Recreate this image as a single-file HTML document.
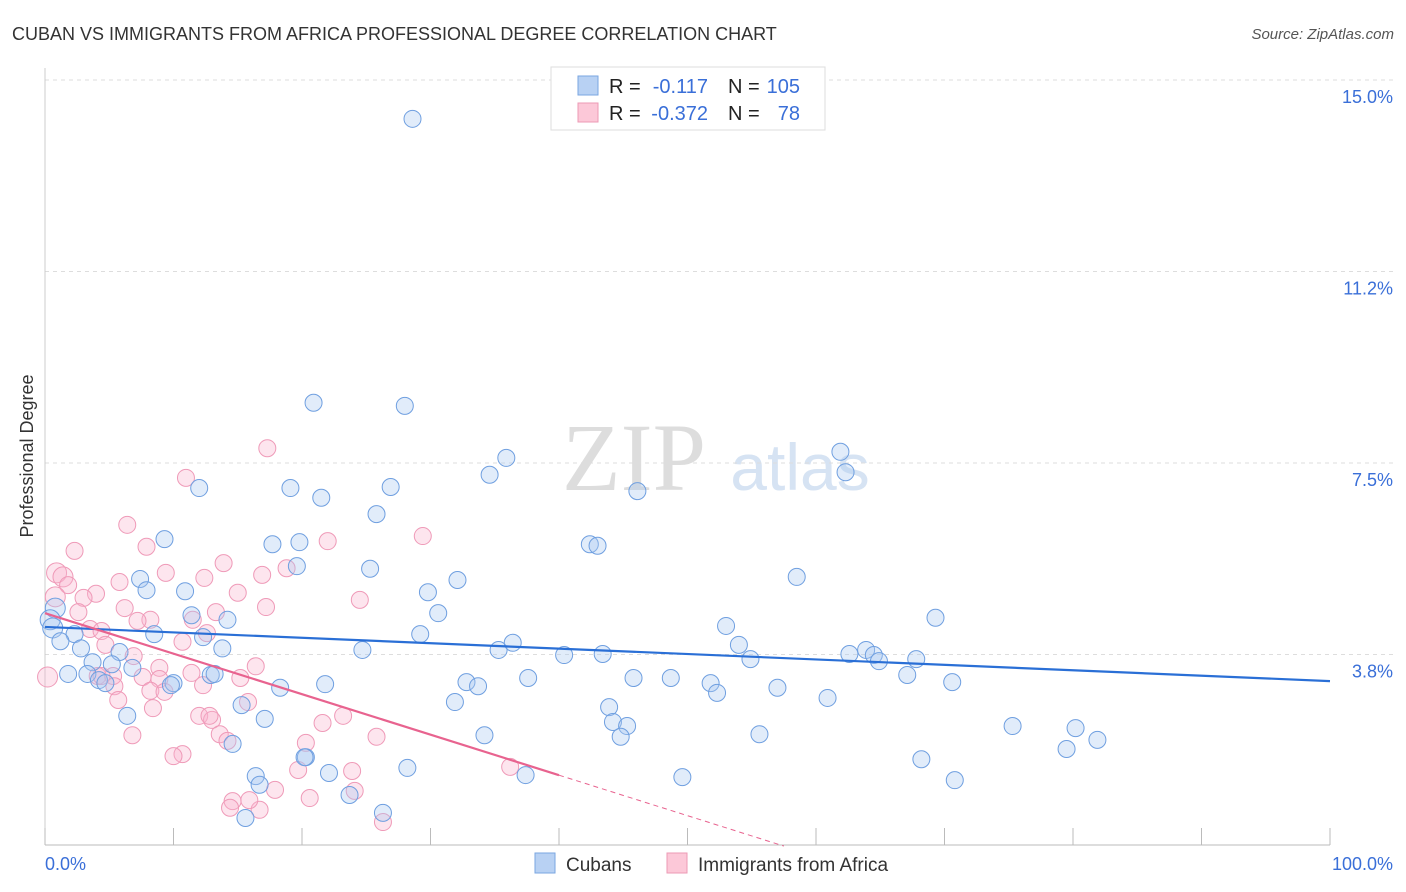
<!DOCTYPE html>
<html><head><meta charset="utf-8"><style>
body{margin:0;background:#fff;font-family:"Liberation Sans",sans-serif;}
svg{display:block}
</style></head><body>
<svg id="chart" width="1406" height="892" viewBox="0 0 1406 892">
<text x="12" y="40" font-size="18" fill="#333">CUBAN VS IMMIGRANTS FROM AFRICA PROFESSIONAL DEGREE CORRELATION CHART</text>
<text x="1394" y="39" font-size="15" fill="#555" font-style="italic" text-anchor="end">Source: ZipAtlas.com</text>
<text x="634" y="490" font-size="96" fill="#ddd" font-family="Liberation Serif,serif" text-anchor="middle">ZIP</text>
<text x="800" y="490" font-size="66" fill="#d6e3f3" text-anchor="middle">atlas</text>
<text x="33" y="456" font-size="18" fill="#333" text-anchor="middle" transform="rotate(-90 33 456)">Professional Degree</text>
<g id="grid"></g><g id="pts"></g><g id="trend"></g>
<g>
<rect x="551" y="67" width="274" height="63" fill="#fff" stroke="#ddd"/>
<rect x="578" y="76" width="20" height="19" fill="#b8d1f3" stroke="#7aa6e0"/>
<rect x="578" y="103" width="20" height="19" fill="#fcc8d8" stroke="#ec9ab5"/>
<text x="609" y="93" font-size="20" fill="#222">R = </text><text x="708" y="93" font-size="20" fill="#3a6fd8" text-anchor="end">-0.117</text>
<text x="728" y="93" font-size="20" fill="#222">N = </text><text x="800" y="93" font-size="20" fill="#3a6fd8" text-anchor="end">105</text>
<text x="609" y="120" font-size="20" fill="#222">R = </text><text x="708" y="120" font-size="20" fill="#3a6fd8" text-anchor="end">-0.372</text>
<text x="728" y="120" font-size="20" fill="#222">N = </text><text x="800" y="120" font-size="20" fill="#3a6fd8" text-anchor="end">78</text>
</g>
<g>
<rect x="535" y="853" width="20" height="20" fill="#b8d1f3" stroke="#7aa6e0"/>
<text x="566" y="871" font-size="19" fill="#333">Cubans</text>
<rect x="667" y="853" width="20" height="20" fill="#fcc8d8" stroke="#ec9ab5"/>
<text x="698" y="871" font-size="19" fill="#333">Immigrants from Africa</text>
</g>
</svg>
<script>
const yTicks=[15.0,11.25,7.5,3.75];
const yTickLabels=["15.0%","11.2%","7.5%","3.8%"];
const xTickLabels=["0.0%","100.0%"];
const cubanX=[28.6,20.9,28.0,35.9,61.9,62.3,34.6,12.0,19.1,21.5,26.9,46.1,25.8,9.3,17.7,19.8,42.4,43.0,58.5,19.6,25.3,32.1,29.8,7.4,7.9,10.9,30.6,0.8,0.4,0.6,11.4,14.2,29.2,8.5,2.3,1.2,12.3,13.8,2.8,5.8,24.7,35.3,36.4,40.4,43.4,53.0,54.0,54.9,62.6,63.9,64.5,64.9,67.8,69.3,3.7,5.2,6.8,1.8,3.3,4.2,4.7,10.0,9.8,12.9,13.2,18.3,21.8,32.8,33.7,37.6,45.8,48.7,51.8,52.3,57.0,60.9,67.1,70.6,31.9,43.9,44.2,45.3,44.8,6.4,15.3,17.1,34.2,55.6,75.3,80.2,81.9,79.5,14.6,20.3,20.2,68.2,16.4,16.7,22.1,28.2,37.4,49.6,70.8,23.7,26.3,15.6];
const cubanY=[14.24,8.68,8.62,7.60,7.72,7.32,7.27,7.01,7.01,6.82,7.03,6.95,6.50,6.01,5.91,5.95,5.91,5.88,5.27,5.48,5.43,5.21,4.97,5.23,5.01,4.99,4.56,4.66,4.43,4.27,4.52,4.43,4.15,4.15,4.15,4.01,4.09,3.87,3.87,3.80,3.84,3.84,3.98,3.74,3.76,4.31,3.94,3.66,3.76,3.84,3.74,3.62,3.66,4.47,3.60,3.56,3.49,3.37,3.37,3.25,3.19,3.19,3.15,3.35,3.37,3.10,3.17,3.21,3.13,3.29,3.29,3.29,3.19,3.00,3.10,2.90,3.35,3.21,2.82,2.72,2.43,2.35,2.14,2.55,2.76,2.49,2.17,2.19,2.35,2.31,2.08,1.90,2.00,1.74,1.74,1.70,1.37,1.20,1.43,1.53,1.39,1.35,1.29,1.00,0.65,0.55];
const africaX=[17.3,10.970,6.4,29.4,22.0,2.3,7.9,13.9,0.9,1.4,9.4,12.4,16.9,5.8,1.8,3.97,0.8,3.0,15.0,18.8,24.5,6.2,17.2,2.6,13.3,8.2,11.5,7.2,3.5,4.4,12.6,10.7,4.7,6.9,8.9,16.4,11.4,0.2,4.1,5.3,7.6,8.9,15.2,5.4,12.3,8.2,15.8,9.3,5.7,8.4,12.0,13.0,23.2,21.6,6.8,13.6,14.2,25.8,20.3,10.7,10.0,19.7,23.9,36.2,17.9,14.6,20.6,24.1,14.4,16.7,15.9,26.3,12.8,4.4];
const africaY=[7.79,7.21,6.29,6.07,5.97,5.78,5.86,5.54,5.35,5.27,5.35,5.25,5.31,5.17,5.11,4.94,4.88,4.86,4.96,5.44,4.82,4.66,4.68,4.58,4.58,4.43,4.43,4.41,4.25,4.21,4.17,4.00,3.94,3.72,3.49,3.52,3.39,3.31,3.33,3.33,3.31,3.27,3.29,3.13,3.15,3.04,2.82,3.02,2.86,2.70,2.55,2.47,2.55,2.41,2.17,2.19,2.06,2.14,2.02,1.80,1.76,1.49,1.47,1.55,1.10,0.88,0.94,1.08,0.75,0.71,0.90,0.47,2.55,3.33];
const cubanTrend=[4.29,3.23];   // y at x=0, x=100
const africaTrend=[4.56,-0.0793]; // intercept, slope
const X0=45,X1=1330,Y15=80,PER=51.07;
const sx=v=>X0+(X1-X0)*v/100, sy=v=>Y15+(15-v)*PER;
const NS="http://www.w3.org/2000/svg";
function mk(t,a,p){const e=document.createElementNS(NS,t);for(const k in a)e.setAttribute(k,a[k]);p.appendChild(e);return e;}
const grid=document.getElementById('grid');
yTicks.forEach((v,i)=>{
 const l=mk('line',{x1:X0,x2:1394,y1:sy(v),y2:sy(v),stroke:'#ddd','stroke-dasharray':'4 4'},grid);
 
 
 const t=mk('text',{x:1393,y:sy(v)+23,'font-size':18,fill:'#3a6fd8','text-anchor':'end'},grid);t.textContent=yTickLabels[i];
 
 
});
const ax=mk('line',{x1:X0,x2:X1,y1:845,y2:845,stroke:'#bbb'},grid);


const ay=mk('line',{x1:X0,x2:X0,y1:68,y2:845,stroke:'#ccc'},grid);


for(let i=0;i<=10;i++){const tk=mk('line',{x1:sx(i*10),x2:sx(i*10),y1:828,y2:845,stroke:'#bbb'},grid);
 
 }
xTickLabels.forEach((s,i)=>{const t=mk('text',{x:i?1393:45,y:870,'font-size':18,fill:'#3a6fd8','text-anchor':i?'end':'start'},grid);t.textContent=s;
 
 });
const pts=document.getElementById('pts');
africaX.forEach((x,i)=>{const c=mk('circle',{cx:sx(x),cy:sy(africaY[i]),r:x<1.5?10:8.5,fill:'rgba(250,180,205,0.35)',stroke:'#ef9ab8','stroke-width':1},pts);
 
 });
cubanX.forEach((x,i)=>{const c=mk('circle',{cx:sx(x),cy:sy(cubanY[i]),r:x<1?10:8.5,fill:'rgba(170,200,240,0.35)',stroke:'#6f9fe0','stroke-width':1},pts);
 
 });
const tr=document.getElementById('trend');
const b=mk('line',{x1:sx(0),y1:sy(cubanTrend[0]),x2:sx(100),y2:sy(cubanTrend[1]),stroke:'#2a6fd6','stroke-width':2.2},tr);


const pe=40, zx=-africaTrend[0]/africaTrend[1];
const p=mk('line',{x1:sx(0),y1:sy(africaTrend[0]),x2:sx(pe),y2:sy(africaTrend[0]+africaTrend[1]*pe),stroke:'#e8638f','stroke-width':2.2},tr);


const pd=mk('line',{x1:sx(pe),y1:sy(africaTrend[0]+africaTrend[1]*pe),x2:sx(zx),y2:sy(0),stroke:'#e8638f','stroke-width':1,'stroke-dasharray':'5 4'},tr);


</script>
</body></html>
